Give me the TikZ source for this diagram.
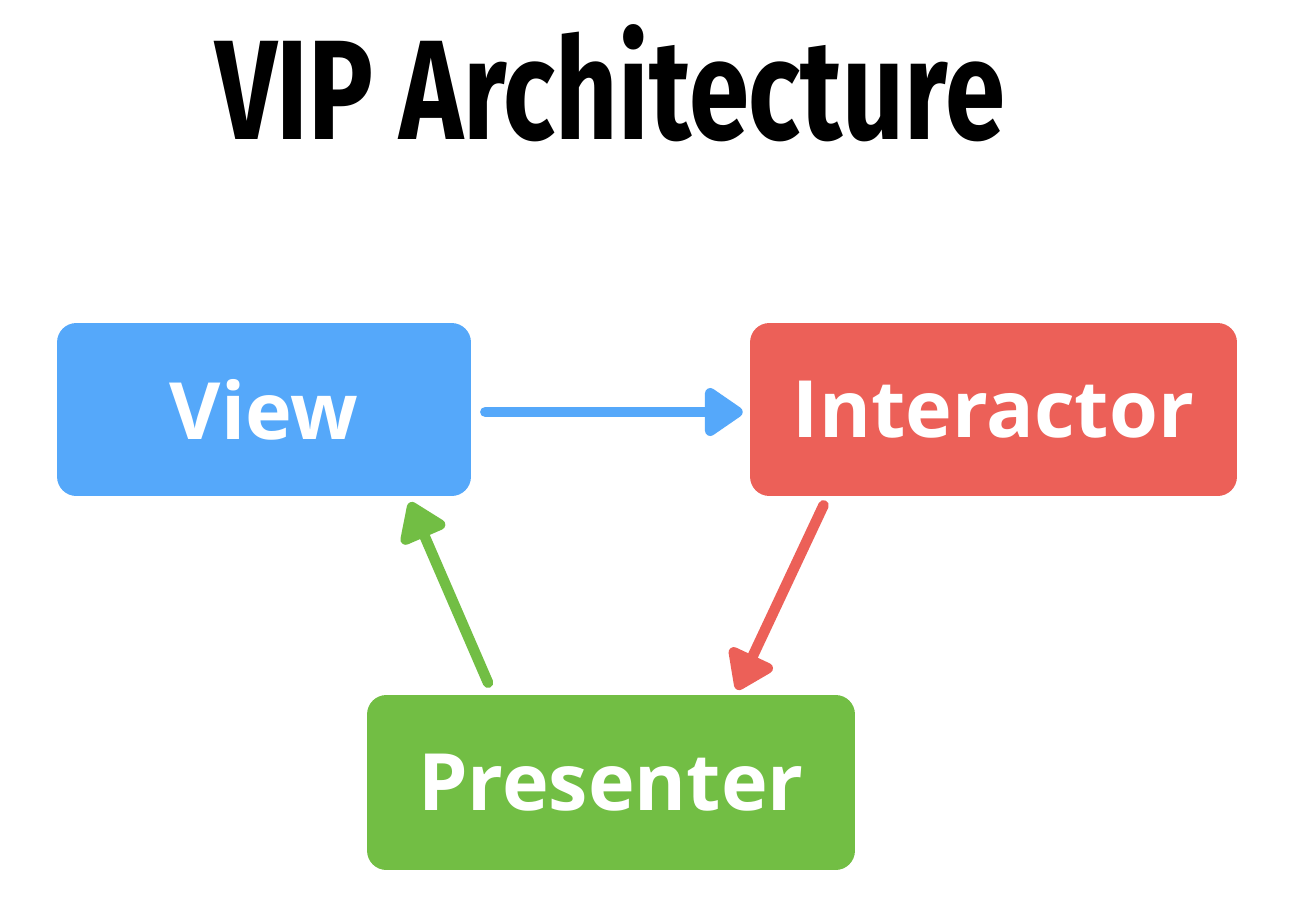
\documentclass[tikz,border=0pt]{standalone}
\usepackage{fontspec}
\setmainfont{Open Sans}
\newfontfamily\titlefont{Fira Sans}
\usetikzlibrary{arrows.meta}
\definecolor{viewblue}{HTML}{55A8FA}
\definecolor{interred}{HTML}{EC6058}
\definecolor{presgreen}{HTML}{72BE44}
\begin{document}
\begin{tikzpicture}[x=0.02cm,y=-0.02cm,
	box/.style={rounded corners=11pt,inner sep=0pt,minimum height=3.46cm,text=white,font=\fontsize{45}{54}\selectfont\bfseries},
	link/.style={line width=6pt,line cap=round,-{Triangle[length=24pt,width=31pt,round]}}]
	\useasboundingbox[fill=white] (0,0) rectangle (1310,912);
	% title
	\node[inner sep=0pt] (title) at (610,83) {\resizebox{15.8cm}{2.3cm}{\titlefont\bfseries VIP Architecture}};
	% the three boxes
	\node[box,fill=viewblue,minimum width=8.28cm] (view) at (264,409.5) {View};
	\node[box,fill=interred,minimum width=9.74cm] (inter) at (993.5,409.5) {Interactor};
	\node[box,fill=presgreen,minimum width=9.76cm,minimum height=3.5cm] (pres) at (611,782.5) {Presenter};
	% arrows
	\draw[link,viewblue] ([xshift=0.28cm,yshift=-0.05cm]view.east) -- ([xshift=-0.14cm,yshift=-0.05cm]inter.west);
	\draw[link,interred] ([xshift=-3.4cm,yshift=-0.18cm]inter.south) -- ([xshift=2.52cm,yshift=0.1cm]pres.north);
	\draw[link,presgreen] ([xshift=-2.46cm,yshift=0.24cm]pres.north) -- ([xshift=2.92cm,yshift=-0.12cm]view.south);
\end{tikzpicture}
\end{document}
